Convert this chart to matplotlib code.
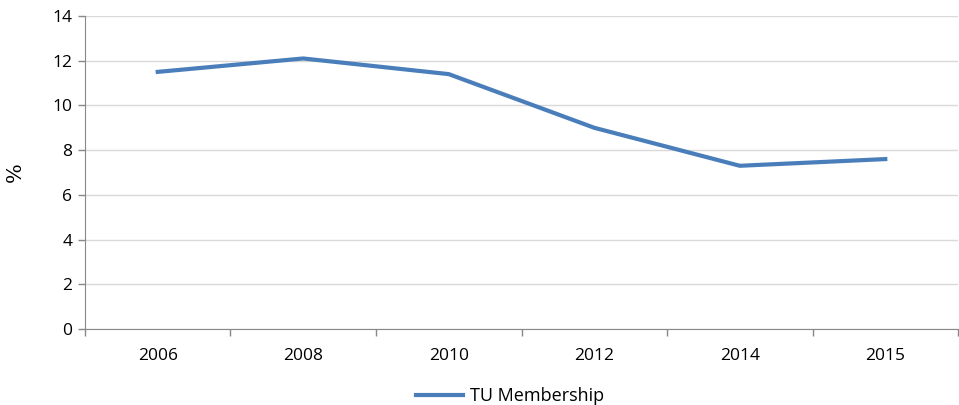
import numpy as np
import matplotlib.pyplot as plt

years = ["2006", "2008", "2010", "2012", "2014", "2015"]
membership = [11.5, 12.1, 11.4, 9.0, 7.3, 7.6]

plt.rcParams["font.family"] = ["Open Sans", "DejaVu Sans"]

fig = plt.figure(figsize=(9.59, 4.05), dpi=100)
ax = fig.add_axes([0.0886, 0.1877, 0.9104, 0.7728])

x = np.arange(len(years))
line, = ax.plot(x, membership, color="#4A7EBB", linewidth=3, solid_joinstyle="round",
                label="TU Membership")

ax.set_xlim(-0.5, len(years) - 0.5)
ax.set_ylim(0, 14)
ax.set_yticks(np.arange(0, 15, 2))
ax.yaxis.grid(True, color="#d9d9d9", linewidth=1)
ax.set_axisbelow(True)

ax.set_xticks(np.arange(-0.5, len(years), 1))
ax.set_xticklabels([])
ax.set_xticks(x, minor=True)
ax.set_xticklabels(years, minor=True)
ax.tick_params(axis="x", which="major", length=5, color="#888888", width=1)
ax.tick_params(axis="x", which="minor", length=0, pad=14, labelsize=12.5)
ax.tick_params(axis="y", length=5, color="#888888", width=1, labelsize=12.5, pad=4)

for side in ["top", "right"]:
    ax.spines[side].set_visible(False)
for side in ["left", "bottom"]:
    ax.spines[side].set_color("#888888")

ax.set_ylabel("%", family="DejaVu Serif", fontsize=15, labelpad=20)

fig.legend(handles=[line], loc="center", bbox_to_anchor=(0.532, 0.022), frameon=False,
           fontsize=13, handlelength=2.6, handletextpad=0.4)

plt.savefig("out.png", dpi=100)
plt.close()
